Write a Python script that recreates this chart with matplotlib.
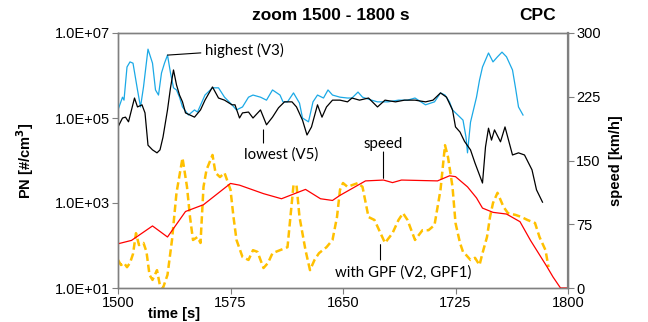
import numpy as np
import matplotlib.pyplot as plt
from matplotlib.ticker import FixedLocator, FuncFormatter, NullLocator

plt.rcParams['font.family'] = ['Liberation Sans', 'DejaVu Sans']

# highest emitter (V3): time [s], log10 PN [#/cm3]
t_v3 = [1500, 1503, 1504, 1506, 1508, 1510, 1513, 1515, 1517, 1520, 1523, 1525, 1527, 1529,
        1531, 1533, 1535, 1537, 1539, 1541, 1543, 1547, 1551, 1553, 1558, 1563, 1567, 1571,
        1576, 1579, 1583, 1587, 1590, 1595, 1599, 1603, 1608, 1610, 1613, 1617, 1621, 1623,
        1627, 1630, 1633, 1637, 1640, 1643, 1648, 1653, 1656, 1660, 1663, 1669, 1673, 1680,
        1687, 1693, 1698, 1705, 1711, 1715, 1718, 1721, 1723, 1728, 1730, 1732, 1733, 1735,
        1739, 1741, 1743, 1747, 1750, 1753, 1756, 1759, 1763, 1765, 1767, 1770]
pn_v3 = [5.19, 5.49, 5.42, 6.20, 6.32, 6.29, 5.66, 5.26, 5.73, 6.62, 6.29, 5.66, 5.54, 6.06,
         6.29, 6.48, 6.06, 5.71, 5.66, 5.49, 5.26, 5.07, 5.19, 5.14, 5.54, 5.71, 5.71, 5.49,
         5.31, 5.19, 5.26, 5.49, 5.54, 5.49, 5.42, 5.66, 5.54, 5.38, 5.38, 5.59, 5.35, 5.00,
         4.91, 5.38, 5.54, 5.47, 5.66, 5.54, 5.49, 5.47, 5.47, 5.61, 5.49, 5.42, 5.38, 5.38,
         5.42, 5.42, 5.47, 5.31, 5.38, 5.59, 5.54, 5.38, 5.19, 5.02, 4.95, 4.55, 4.18, 4.90,
         5.49, 5.89, 6.20, 6.53, 6.32, 6.44, 6.55, 6.44, 6.13, 5.71, 5.26, 5.07]

# lowest emitter (V5)
t_v5 = [1500, 1503, 1505, 1507, 1509, 1511, 1513, 1516, 1518, 1520, 1523, 1526, 1528, 1530,
        1533, 1535, 1537, 1539, 1541, 1543, 1545, 1548, 1551, 1555, 1558, 1563, 1567, 1571,
        1576, 1578, 1581, 1583, 1587, 1590, 1595, 1599, 1603, 1607, 1611, 1616, 1619, 1623,
        1626, 1629, 1633, 1636, 1639, 1643, 1648, 1653, 1656, 1661, 1667, 1673, 1678, 1685,
        1691, 1698, 1705, 1710, 1715, 1719, 1723, 1725, 1728, 1731, 1735, 1738, 1743, 1745,
        1747, 1749, 1751, 1755, 1758, 1763, 1767, 1771, 1776, 1779, 1783]
pn_v5 = [4.79, 5.00, 5.02, 4.91, 5.19, 5.47, 5.26, 5.31, 5.12, 4.36, 4.25, 4.18, 4.25, 4.55,
         5.19, 5.71, 6.13, 5.78, 5.54, 5.38, 5.12, 5.07, 5.02, 5.19, 5.42, 5.73, 5.47, 5.42,
         5.31, 5.31, 5.00, 5.12, 5.14, 5.00, 5.19, 4.84, 5.02, 5.24, 5.38, 5.38, 5.26, 4.95,
         4.60, 4.79, 5.31, 5.02, 5.26, 5.42, 5.42, 5.38, 5.47, 5.42, 5.47, 5.26, 5.42, 5.38,
         5.42, 5.42, 5.38, 5.42, 5.59, 5.49, 5.19, 4.79, 4.67, 4.45, 4.25, 3.94, 3.47, 4.32,
         4.76, 4.48, 4.72, 4.44, 4.79, 4.13, 4.18, 4.13, 3.78, 3.31, 3.02]

# with GPF (V2, GPF1)
t_gpf = [1500, 1502, 1504, 1506, 1508, 1510, 1512, 1514, 1517, 1519, 1521, 1523, 1526, 1528,
         1530, 1533, 1536, 1539, 1543, 1546, 1548, 1550, 1553, 1555, 1557, 1559, 1563, 1565,
         1568, 1571, 1575, 1577, 1579, 1583, 1587, 1590, 1593, 1597, 1600, 1603, 1608, 1613,
         1617, 1619, 1621, 1625, 1628, 1631, 1634, 1639, 1643, 1646, 1648, 1650, 1653, 1656,
         1660, 1663, 1667, 1671, 1675, 1678, 1683, 1687, 1690, 1693, 1698, 1703, 1707, 1711,
         1715, 1718, 1720, 1723, 1725, 1728, 1730, 1731, 1735, 1738, 1741, 1743, 1746, 1748,
         1750, 1753, 1757, 1760, 1765, 1769, 1773, 1778, 1781, 1785, 1787]
pn_gpf = [1.66, 1.54, 1.59, 1.49, 1.59, 1.80, 2.29, 2.01, 2.06, 1.85, 1.31, 1.19, 1.42, 1.05,
          1.00, 1.31, 2.13, 3.24, 4.06, 3.38, 2.67, 2.13, 2.20, 2.06, 3.38, 3.78, 4.13, 3.71,
          3.61, 3.71, 3.31, 2.67, 2.13, 1.73, 1.66, 1.89, 1.85, 1.47, 1.59, 1.82, 1.89, 1.96,
          3.42, 3.42, 2.67, 1.89, 1.42, 1.66, 1.82, 1.96, 2.13, 2.67, 3.31, 3.47, 3.38, 3.42,
          3.47, 3.38, 2.67, 2.60, 2.29, 2.06, 2.29, 2.60, 2.76, 2.60, 2.13, 2.36, 2.36, 2.48,
          3.31, 4.36, 4.08, 3.38, 2.53, 2.06, 1.85, 1.82, 1.66, 1.71, 1.54, 1.82, 2.20, 2.67,
          3.00, 3.24, 2.91, 2.76, 2.72, 2.67, 2.60, 2.53, 2.20, 1.89, 1.49]

# vehicle speed [km/h]
t_speed = [1500, 1509, 1523, 1533, 1545, 1557, 1575, 1581, 1597, 1609, 1625, 1635, 1643,
           1648, 1665, 1677, 1683, 1689, 1713, 1721, 1725, 1733, 1739, 1743, 1750, 1759,
           1768, 1775, 1786, 1790, 1795, 1800]
speed = [52, 56, 73, 60, 90, 98, 123, 121, 111, 105, 116, 105, 103, 109, 126, 127, 124, 127,
         126, 132, 131, 119, 106, 94, 89, 87, 78, 56, 25, 13, 0, 0]

x_ticks = [1500, 1575, 1650, 1725, 1800]
pn_ticks = [1e1, 1e3, 1e5, 1e7]
speed_ticks = [0, 75, 150, 225, 300]

grey = '#808080'
fig = plt.figure(figsize=(6.48, 3.22), dpi=100)
ax = fig.add_axes([118 / 648, 34 / 322, 450 / 648, 255 / 322])
ax2 = ax.twinx()

ax.plot(t_v3, 10 ** np.array(pn_v3), color='#1BA9E6', lw=0.9, zorder=3)
ax.plot(t_v5, 10 ** np.array(pn_v5), color='black', lw=0.9, zorder=4)
ax.plot(t_gpf, 10 ** np.array(pn_gpf), color='#FFC000', lw=1.8, ls=(0, (3, 1.5)), zorder=2)
ax2.plot(t_speed, speed, color='#FF0000', lw=0.9)

ax.set_yscale('log')
ax.set_ylim(1e1, 1e7)
ax.set_xlim(1500, 1800)
ax2.set_ylim(0, 300)
ax.yaxis.set_major_locator(FixedLocator(pn_ticks))
ax.yaxis.set_minor_locator(NullLocator())
ax.yaxis.set_major_formatter(FuncFormatter(lambda v, p: f"{v:.1E}"))
ax.set_xticks(x_ticks)
ax2.set_yticks(speed_ticks)

for a in (ax, ax2):
    for s in a.spines.values():
        s.set_color(grey)
        s.set_linewidth(1.0)
    a.tick_params(length=4, color=grey, labelsize=10.5, direction='out', pad=2)
ax2.spines['right'].set_linewidth(1.6)

ax.set_ylabel('PN [#/cm$^\\mathbf{3}$]', fontsize=10.5, fontweight='bold', labelpad=13)
ax2.set_ylabel('speed [km/h]', fontsize=10.5, fontweight='bold', labelpad=6)
ax.text(0.067, -0.075, 'time [s]', transform=ax.transAxes, fontsize=10.5,
        fontweight='bold', va='top', ha='left')

fig.text(331 / 648, 1 - 15 / 322, 'zoom 1500 - 1800 s', fontsize=12.5, fontweight='bold',
         ha='center', va='center')
fig.text(538 / 648, 1 - 15 / 322, 'CPC', fontsize=12.5, fontweight='bold',
         ha='center', va='center')

# labels with leader lines
note = dict(fontsize=10.8, family=['Lato', 'DejaVu Sans'])
leader = dict(arrowstyle='-', lw=0.8, color='black', shrinkA=0, shrinkB=0)
ax.annotate('highest (V3)', xy=(1533, 10 ** 6.48), xytext=(1558, 10 ** 6.6),
            va='center', ha='left',
            arrowprops=dict(arrowstyle='-', lw=0.8, color='black', shrinkA=1, shrinkB=0),
            **note)
ax.annotate('', xy=(1597, 10 ** 4.72), xytext=(1597, 10 ** 4.41), arrowprops=leader)
ax.text(1609, 10 ** 4.15, 'lowest (V5)', va='center', ha='center', **note)
ax2.annotate('', xy=(1677, 129), xytext=(1677, 160), arrowprops=leader)
ax2.text(1677, 169, 'speed', va='center', ha='center', **note)
ax2.annotate('', xy=(1675, 51), xytext=(1675, 33), arrowprops=leader)
ax2.text(1690, 18, 'with GPF (V2, GPF1)', va='center', ha='center', **note)

plt.savefig('out.png', dpi=100)
